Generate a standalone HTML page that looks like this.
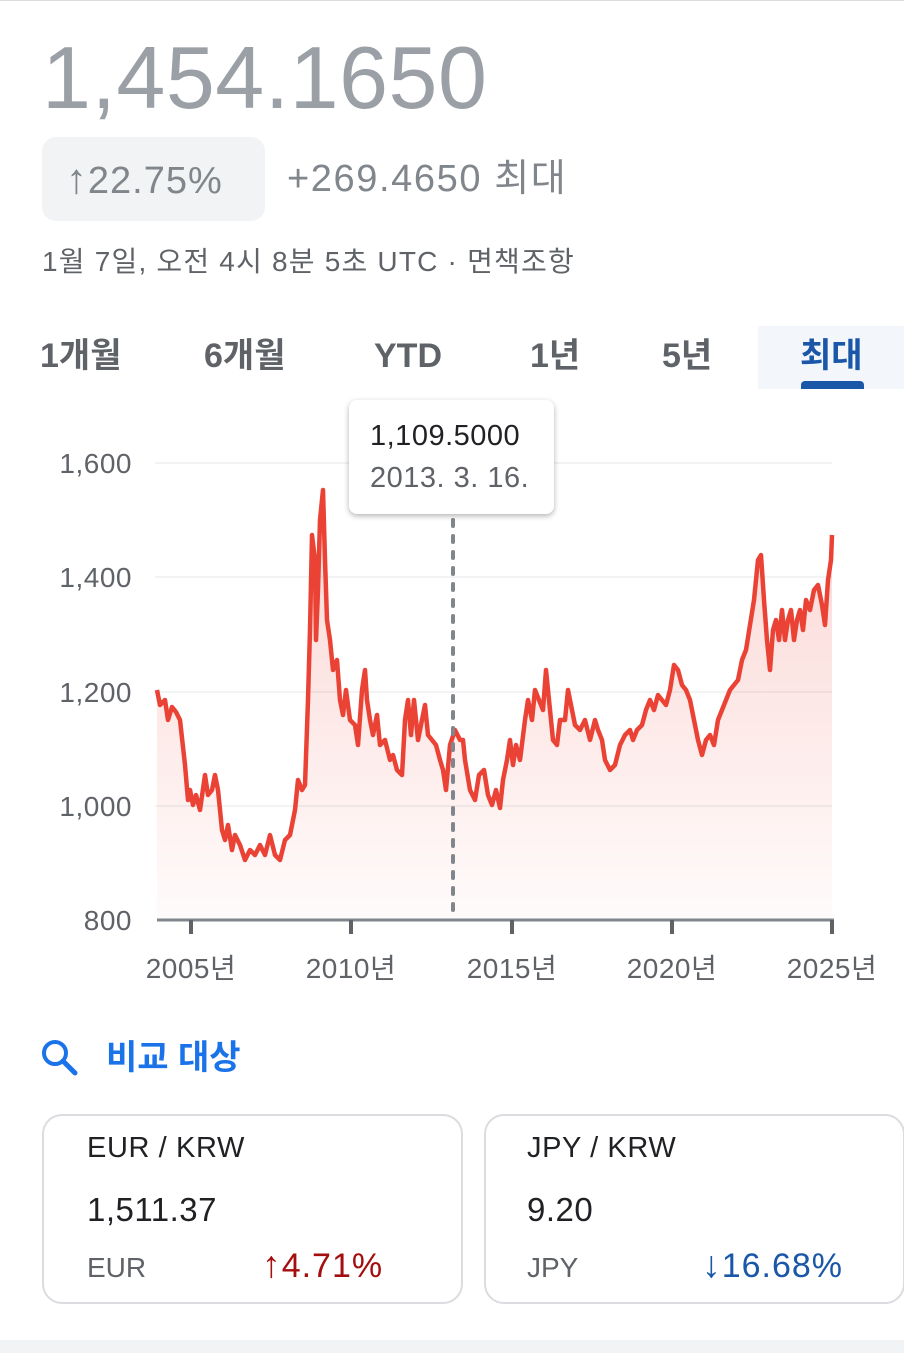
<!DOCTYPE html>
<html><head><meta charset="utf-8"><style>
body{margin:0;width:904px;height:1353px;background:#fff;position:relative;overflow:hidden;font-family:"Liberation Sans","Noto Sans CJK KR",sans-serif;}
.a{position:absolute;white-space:nowrap;}
.ar{font-weight:bold;font-size:1.1em}
</style></head><body>
<div class="a" style="left:0;top:0;width:904px;height:1px;background:#dadce0"></div>
<div class="a" style="left:42px;top:28px;font-size:88px;color:#9aa0a6;letter-spacing:0.5px;line-height:100px">1,454.1650</div>
<div class="a" style="left:42px;top:137px;width:223px;height:84px;border-radius:14px;background:#f1f3f4"></div>
<div class="a" style="left:66px;top:155px;font-size:38px;color:#80868b;line-height:48px;letter-spacing:1px"><span class="ar">↑</span>22.75%</div>
<div class="a" style="left:287px;top:155px;font-size:38px;color:#80868b;line-height:48px;letter-spacing:1.6px">+269.4650 최대</div>
<div class="a" style="left:42px;top:244px;font-size:28px;color:#5f6368;line-height:36px;letter-spacing:1.2px">1월 7일, 오전 4시 8분 5초 UTC · 면책조항</div>
<div class="a" style="left:758px;top:326px;width:146px;height:63px;background:#f3f6fb"></div>
<div class="a" style="left:801px;top:381px;width:63px;height:8px;border-radius:4px 4px 0 0;background:#1a57a8"></div>
<div class="a" style="left:40px;top:334px;font-size:34px;color:#5f6368;font-weight:bold;line-height:44px">1개월</div>
<div class="a" style="left:204px;top:334px;font-size:34px;color:#5f6368;font-weight:bold;line-height:44px">6개월</div>
<div class="a" style="left:374px;top:334px;font-size:34px;color:#5f6368;font-weight:bold;line-height:44px">YTD</div>
<div class="a" style="left:530px;top:334px;font-size:34px;color:#5f6368;font-weight:bold;line-height:44px">1년</div>
<div class="a" style="left:662px;top:334px;font-size:34px;color:#5f6368;font-weight:bold;line-height:44px">5년</div>
<div class="a" style="left:800px;top:334px;font-size:34px;color:#1a57a8;font-weight:bold;line-height:44px">최대</div>
<svg class="a" style="left:0;top:0" width="904" height="1000">
<defs><linearGradient id="g" x1="0" y1="0" x2="0" y2="1"><stop offset="0" stop-color="#ea4335" stop-opacity="0.22"/><stop offset="1" stop-color="#ea4335" stop-opacity="0.02"/></linearGradient></defs>
<g stroke="#f1f3f4" stroke-width="2"><line x1="155" y1="463" x2="832" y2="463"/><line x1="155" y1="577" x2="832" y2="577"/><line x1="155" y1="692" x2="832" y2="692"/><line x1="155" y1="806" x2="832" y2="806"/></g>
<g font-size="28" fill="#5f6368" text-anchor="end" font-family="Liberation Sans,sans-serif" letter-spacing="0.5"><text x="132" y="473">1,600</text><text x="132" y="587">1,400</text><text x="132" y="702">1,200</text><text x="132" y="816">1,000</text><text x="132" y="930">800</text></g>
<polygon fill="url(#g)" points="157,690 160,705 165,700 168,720 172,707 176,712 180,720 185,765 188,800 190,790 193,805 196,795 200,810 205,775 208,795 212,790 215,775 218,790 222,830 225,840 228,825 232,850 235,835 240,845 245,860 250,850 255,855 260,845 265,855 270,835 275,855 280,860 285,840 290,835 295,810 298,780 302,790 305,785 308,700 310,630 312,535 315,560 316,640 318,590 320,520 323,490 325,560 327,620 330,640 333,670 335,665 337,660 340,700 343,715 346,690 350,720 355,725 358,745 362,690 365,670 367,700 370,720 373,735 377,715 380,745 385,740 390,760 393,755 397,770 402,775 405,720 408,700 411,735 414,700 418,740 422,720 425,705 428,735 432,740 436,745 440,760 443,770 446,790 450,745 455,730 460,740 463,740 465,760 470,790 475,800 479,775 484,770 488,795 492,805 496,790 500,808 503,780 507,760 510,740 513,765 516,745 520,760 525,720 528,700 532,720 535,690 539,700 543,710 546,670 550,710 553,740 557,745 560,720 565,720 568,690 572,710 575,725 580,730 585,720 590,740 595,720 598,730 602,740 605,760 610,770 615,765 620,745 625,735 630,730 633,740 637,730 642,725 646,710 650,700 654,710 658,695 662,700 666,705 670,690 674,665 678,670 682,685 686,690 690,700 694,720 698,740 702,755 706,740 710,735 714,745 718,720 722,710 726,700 730,690 734,685 738,680 742,660 746,650 750,625 754,600 758,560 761,555 764,600 767,640 770,670 773,630 776,620 779,640 782,610 785,640 788,620 791,610 794,640 797,620 800,610 803,630 806,600 810,610 814,590 818,585 822,605 825,625 828,580 831,560 832,535 832,920 157,920"/>
<polyline fill="none" stroke="#ea4335" stroke-width="4.5" stroke-linejoin="round" points="157,690 160,705 165,700 168,720 172,707 176,712 180,720 185,765 188,800 190,790 193,805 196,795 200,810 205,775 208,795 212,790 215,775 218,790 222,830 225,840 228,825 232,850 235,835 240,845 245,860 250,850 255,855 260,845 265,855 270,835 275,855 280,860 285,840 290,835 295,810 298,780 302,790 305,785 308,700 310,630 312,535 315,560 316,640 318,590 320,520 323,490 325,560 327,620 330,640 333,670 335,665 337,660 340,700 343,715 346,690 350,720 355,725 358,745 362,690 365,670 367,700 370,720 373,735 377,715 380,745 385,740 390,760 393,755 397,770 402,775 405,720 408,700 411,735 414,700 418,740 422,720 425,705 428,735 432,740 436,745 440,760 443,770 446,790 450,745 455,730 460,740 463,740 465,760 470,790 475,800 479,775 484,770 488,795 492,805 496,790 500,808 503,780 507,760 510,740 513,765 516,745 520,760 525,720 528,700 532,720 535,690 539,700 543,710 546,670 550,710 553,740 557,745 560,720 565,720 568,690 572,710 575,725 580,730 585,720 590,740 595,720 598,730 602,740 605,760 610,770 615,765 620,745 625,735 630,730 633,740 637,730 642,725 646,710 650,700 654,710 658,695 662,700 666,705 670,690 674,665 678,670 682,685 686,690 690,700 694,720 698,740 702,755 706,740 710,735 714,745 718,720 722,710 726,700 730,690 734,685 738,680 742,660 746,650 750,625 754,600 758,560 761,555 764,600 767,640 770,670 773,630 776,620 779,640 782,610 785,640 788,620 791,610 794,640 797,620 800,610 803,630 806,600 810,610 814,590 818,585 822,605 825,625 828,580 831,560 832,535"/>
<line x1="453" y1="520" x2="453" y2="920" stroke="#80868b" stroke-width="4" stroke-dasharray="6,10" stroke-linecap="round"/>
<line x1="157" y1="920" x2="834" y2="920" stroke="#80868b" stroke-width="3"/>
<g stroke="#5f6368" stroke-width="4"><line x1="191" y1="920" x2="191" y2="934"/><line x1="351" y1="920" x2="351" y2="934"/><line x1="512" y1="920" x2="512" y2="934"/><line x1="672" y1="920" x2="672" y2="934"/><line x1="832" y1="920" x2="832" y2="934"/></g>
<g font-size="28" fill="#5f6368" text-anchor="middle" font-family="Liberation Sans,Noto Sans CJK KR,sans-serif" letter-spacing="0.5"><text x="191" y="978">2005년</text><text x="351" y="978">2010년</text><text x="512" y="978">2015년</text><text x="672" y="978">2020년</text><text x="832" y="978">2025년</text></g>
</svg>
<div class="a" style="left:349px;top:400px;width:205px;height:114px;background:#fff;border-radius:8px;box-shadow:0 2px 6px rgba(0,0,0,0.3)"></div>
<div class="a" style="left:370px;top:418px;font-size:29px;color:#202124;line-height:36px;letter-spacing:0.5px">1,109.5000</div>
<div class="a" style="left:370px;top:460px;font-size:29px;color:#5f6368;line-height:36px;letter-spacing:0.5px">2013. 3. 16.</div>
<svg class="a" style="left:40px;top:1038px" width="40" height="40"><circle cx="15" cy="15" r="11" fill="none" stroke="#1a73e8" stroke-width="4"/><line x1="23" y1="23" x2="35" y2="35" stroke="#1a73e8" stroke-width="5" stroke-linecap="round"/></svg>
<div class="a" style="left:106px;top:1036px;font-size:34px;color:#1a73e8;font-weight:bold;line-height:44px">비교 대상</div>
<div class="a" style="left:42px;top:1114px;width:417px;height:186px;border:2px solid #dadce0;border-radius:20px"></div>
<div class="a" style="left:484px;top:1114px;width:417px;height:186px;border:2px solid #dadce0;border-radius:20px"></div>
<div class="a" style="left:87px;top:1130px;font-size:29px;color:#202124;line-height:36px;letter-spacing:0.6px">EUR / KRW</div>
<div class="a" style="left:87px;top:1190px;font-size:33px;color:#202124;line-height:40px;letter-spacing:0.5px">1,511.37</div>
<div class="a" style="left:87px;top:1250px;font-size:28px;color:#5f6368;line-height:36px">EUR</div>
<div class="a" style="left:262px;top:1244px;font-size:34px;color:#a50e0e;line-height:40px;letter-spacing:1px"><span class="ar">↑</span>4.71%</div>
<div class="a" style="left:527px;top:1130px;font-size:29px;color:#202124;line-height:36px;letter-spacing:0.6px">JPY / KRW</div>
<div class="a" style="left:527px;top:1190px;font-size:33px;color:#202124;line-height:40px;letter-spacing:0.5px">9.20</div>
<div class="a" style="left:527px;top:1250px;font-size:28px;color:#5f6368;line-height:36px">JPY</div>
<div class="a" style="left:702px;top:1244px;font-size:34px;color:#1a57a8;line-height:40px;letter-spacing:1px"><span class="ar">↓</span>16.68%</div>
<div class="a" style="left:0;top:1340px;width:904px;height:13px;background:#f1f3f4"></div>
</body></html>
